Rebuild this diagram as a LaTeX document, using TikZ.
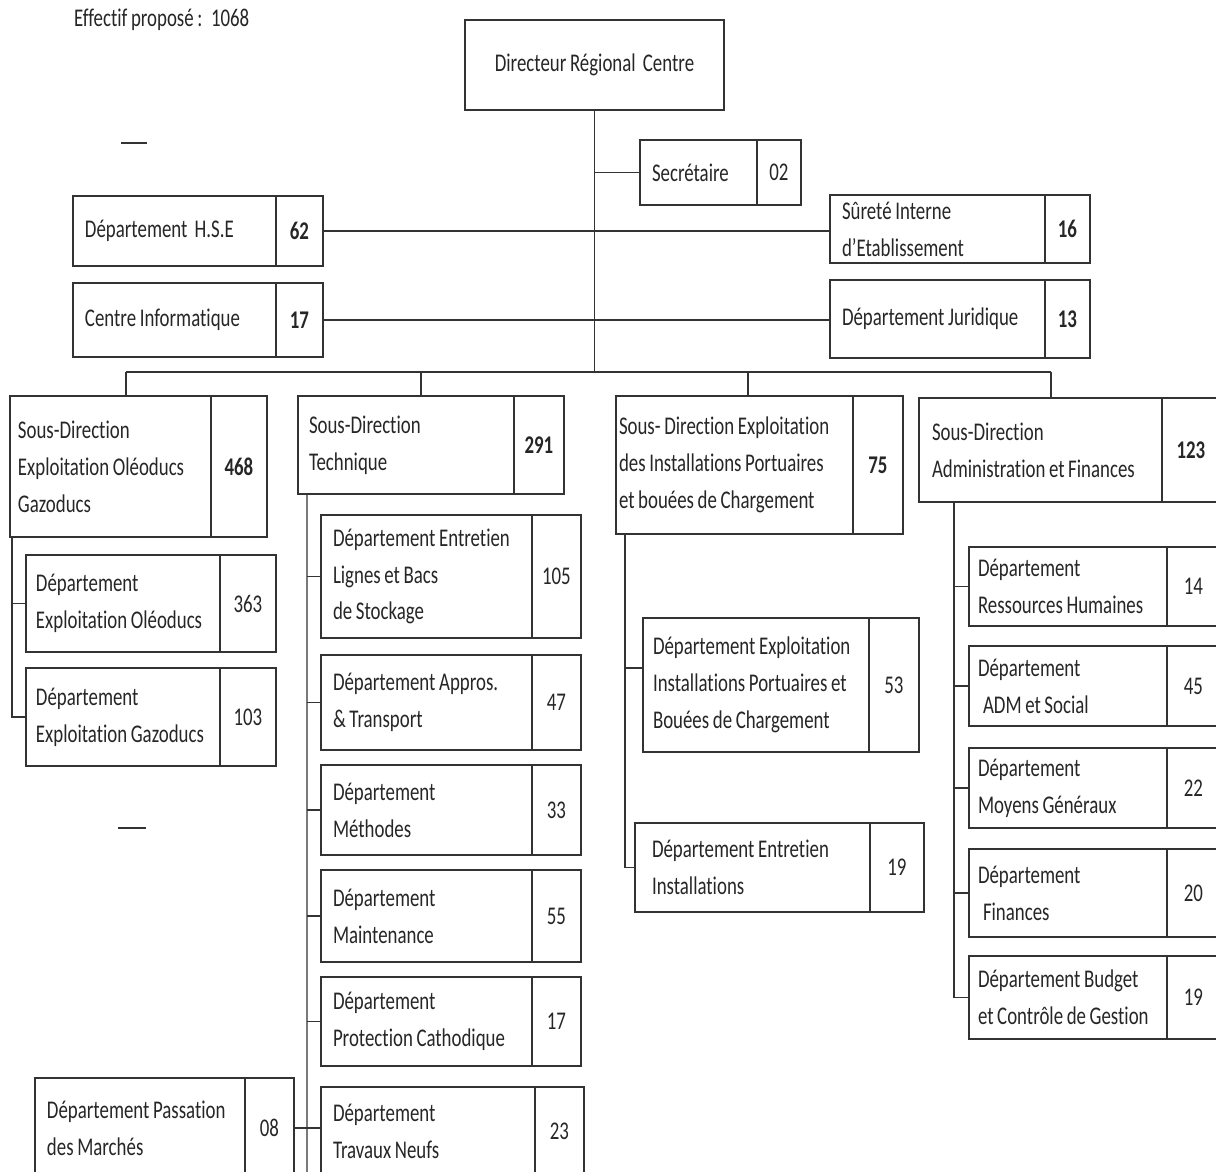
\documentclass[tikz,border=0pt]{standalone}
\usepackage{fontspec}
\setmainfont{Carlito}[FakeStretch=0.74, WordSpace=0.85, Ligatures=NoCommon]
\usepackage{tikz}
\usetikzlibrary{positioning}
\newcommand{\orgfont}{\fontsize{14.5}{21}\selectfont\hyphenpenalty=10000\exhyphenpenalty=10000}
\tikzset{box/.style = {draw = black!80, line width = 0.8pt, outer sep = 0, inner ysep = 0, inner xsep = 0.24cm, align = flush left, anchor = north west, text = black!85}}
\tikzset{num/.style = {draw = black!80, line width = 0.8pt, outer sep = 0, inner sep = 0, text = black!85}}
\tikzset{bnum/.style = {num, font = \orgfont\bfseries}}
\tikzset{link/.style = {black!80, line width = 0.8pt}}

\begin{document}
\begin{tikzpicture}[x = 0.02cm, y = -0.02cm, font = \orgfont]
    \useasboundingbox (0, 0) rectangle (1216, 1172);
    \clip (0, 0) rectangle (1216, 1172);

    \node [anchor = west, text = black!85] (eff) at (68, 20) {Effectif proposé :~ 1068};

    \node [box, align = center, inner xsep = 0, minimum width = 5.18cm, minimum height = 1.8cm] (dir) at (465, 20) {Directeur Régional\ \ Centre};

    \node [box, text width = 1.86cm, minimum height = 1.3cm] (sec) at (640, 140) {Secrétaire};
    \node [num, right = 0pt of sec, minimum width = 0.88cm, minimum height = 1.3cm] (sec-n) {02};

    \node [box, text width = 3.58cm, minimum height = 1.4cm] (hse) at (73, 196) {Département\ \ H.S.E};
    \node [bnum, right = 0pt of hse, minimum width = 0.94cm, minimum height = 1.4cm] (hse-n) {62};
    \node [box, text width = 3.82cm, minimum height = 1.36cm] (surete) at (830, 195) {Sûreté Interne\\d’Etablissement};
    \node [bnum, right = 0pt of surete, minimum width = 0.9cm, minimum height = 1.36cm] (surete-n) {16};
    \node [box, text width = 3.58cm, minimum height = 1.48cm] (info) at (73, 283) {Centre Informatique};
    \node [bnum, right = 0pt of info, minimum width = 0.94cm, minimum height = 1.48cm] (info-n) {17};
    \node [box, text width = 3.82cm, minimum height = 1.56cm] (jur) at (830, 280) {Département Juridique};
    \node [bnum, right = 0pt of jur, minimum width = 0.9cm, minimum height = 1.56cm] (jur-n) {13};

    \node [box, inner xsep = 0.16cm, text width = 3.7cm, minimum height = 2.82cm] (sdo) at (10, 396) {Sous-Direction\\Exploitation Oléoducs\\Gazoducs};
    \node [bnum, right = 0pt of sdo, minimum width = 1.12cm, minimum height = 2.82cm] (sdo-n) {468};
    \node [box, inner xsep = 0.22cm, text width = 3.88cm, minimum height = 1.96cm] (sdt) at (298, 396) {Sous-Direction\\Technique};
    \node [bnum, right = 0pt of sdt, minimum width = 1.0cm, minimum height = 1.96cm] (sdt-n) {291};
    \node [box, inner xsep = 0.06cm, text width = 4.62cm, minimum height = 2.76cm] (sdp) at (616, 396) {Sous- Direction Exploitation\\des Installations Portuaires\\et bouées de Chargement};
    \node [bnum, right = 0pt of sdp, minimum width = 1.0cm, minimum height = 2.76cm] (sdp-n) {75};
    \node [box, inner xsep = 0.26cm, text width = 4.34cm, minimum height = 2.08cm] (sda) at (919, 398) {Sous-Direction\\Administration et Finances};
    \node [bnum, right = 0pt of sda, minimum width = 1.16cm, minimum height = 2.08cm] (sda-n) {123};

    \node [box, inner xsep = 0.2cm, text width = 3.48cm, minimum height = 1.94cm] (deo) at (26, 555) {Département\\Exploitation Oléoducs};
    \node [num, right = 0pt of deo, minimum width = 1.12cm, minimum height = 1.94cm] (deo-n) {363};
    \node [box, inner xsep = 0.2cm, text width = 3.48cm, minimum height = 1.96cm] (deg) at (26, 668) {Département\\Exploitation Gazoducs};
    \node [num, right = 0pt of deg, minimum width = 1.12cm, minimum height = 1.96cm] (deg-n) {103};

    \node [box, text width = 3.74cm, minimum height = 2.46cm] (del) at (321, 515) {Département Entretien\\Lignes et Bacs\\de Stockage};
    \node [num, right = 0pt of del, minimum width = 0.98cm, minimum height = 2.46cm] (del-n) {105};
    \node [box, text width = 3.74cm, minimum height = 1.9cm] (dap) at (321, 655) {Département Appros.\\\& Transport};
    \node [num, right = 0pt of dap, minimum width = 0.98cm, minimum height = 1.9cm] (dap-n) {47};
    \node [box, text width = 3.74cm, minimum height = 1.8cm] (dme) at (321, 765) {Département\\Méthodes};
    \node [num, right = 0pt of dme, minimum width = 0.98cm, minimum height = 1.8cm] (dme-n) {33};
    \node [box, text width = 3.74cm, minimum height = 1.84cm] (dma) at (321, 870) {Département\\Maintenance};
    \node [num, right = 0pt of dma, minimum width = 0.98cm, minimum height = 1.84cm] (dma-n) {55};
    \node [box, text width = 3.74cm, minimum height = 1.78cm] (dpc) at (321, 977) {Département\\Protection Cathodique};
    \node [num, right = 0pt of dpc, minimum width = 0.98cm, minimum height = 1.78cm] (dpc-n) {17};
    \node [box, text width = 3.8cm, minimum height = 1.76cm] (dtn) at (321, 1087) {Département\\Travaux Neufs};
    \node [num, right = 0pt of dtn, minimum width = 0.98cm, minimum height = 1.76cm] (dtn-n) {23};
    \node [box, text width = 3.72cm, minimum height = 2.0cm] (dpm) at (35, 1078) {Département Passation\\des Marchés};
    \node [num, right = 0pt of dpm, minimum width = 0.98cm, minimum height = 2.0cm] (dpm-n) {08};

    \node [box, inner xsep = 0.2cm, text width = 4.12cm, minimum height = 2.68cm] (dei) at (643, 618) {Département Exploitation\\Installations Portuaires et\\Bouées de Chargement};
    \node [num, right = 0pt of dei, minimum width = 1.0cm, minimum height = 2.68cm] (dei-n) {53};
    \node [box, inner xsep = 0.34cm, text width = 4.02cm, minimum height = 1.78cm] (den) at (635, 823) {Département Entretien\\Installations};
    \node [num, right = 0pt of den, minimum width = 1.08cm, minimum height = 1.78cm] (den-n) {19};

    \node [box, inner xsep = 0.18cm, text width = 3.6cm, minimum height = 1.58cm] (drh) at (969, 547) {Département\\Ressources Humaines};
    \node [num, right = 0pt of drh, minimum width = 1.06cm, minimum height = 1.58cm] (drh-n) {14};
    \node [box, inner xsep = 0.18cm, text width = 3.6cm, minimum height = 1.6cm] (dad) at (969, 646) {Département\\\hspace*{0.1cm}ADM et Social};
    \node [num, right = 0pt of dad, minimum width = 1.06cm, minimum height = 1.6cm] (dad-n) {45};
    \node [box, inner xsep = 0.18cm, text width = 3.6cm, minimum height = 1.6cm] (dmg) at (969, 748) {Département\\Moyens Généraux};
    \node [num, right = 0pt of dmg, minimum width = 1.06cm, minimum height = 1.6cm] (dmg-n) {22};
    \node [box, inner xsep = 0.18cm, text width = 3.6cm, minimum height = 1.76cm] (dfi) at (969, 849) {Département\\\hspace*{0.1cm}Finances};
    \node [num, right = 0pt of dfi, minimum width = 1.06cm, minimum height = 1.76cm] (dfi-n) {20};
    \node [box, inner xsep = 0.18cm, text width = 3.6cm, minimum height = 1.66cm] (dbc) at (969, 956) {Département Budget\\et Contrôle de Gestion};
    \node [num, right = 0pt of dbc, minimum width = 1.06cm, minimum height = 1.66cm] (dbc-n) {19};

    \coordinate (bus) at (594, 372);
    \coordinate (b1) at (126, 372);
    \coordinate (b2) at (421, 372);
    \coordinate (b3) at (748, 372);
    \coordinate (b4) at (1051, 372);
    \coordinate (tend) at (307, 1190);

    \draw [link] (dir.south) -- (dir.south |- bus);
    \draw [link] (sec.west) -- (sec.west -| bus);
    \draw [link] (hse-n.east) -- (hse-n.east -| surete.west);
    \draw [link] (info-n.east) -- (info-n.east -| jur.west);
    \draw [link] (b1) -- (b4);
    \draw [link] (b1) -- (b1 |- sdo.north);
    \draw [link] (b2) -- (b2 |- sdt.north);
    \draw [link] (b3) -- (b3 |- sdp.north);
    \draw [link] (b4) -- (b4 |- sda.north);

    \draw [link] ([xshift = 0.04cm]sdo.south west) |- (deg.west);
    \draw [link] (deo.west) -- ++(-14, 0);

    \draw [link] ([xshift = 0.18cm]sdt.south west) -- (tend);
    \draw [link] (del.west) -- ++(-14, 0);
    \draw [link] (dap.west) -- ++(-14, 0);
    \draw [link] (dme.west) -- ++(-14, 0);
    \draw [link] (dma.west) -- ++(-14, 0);
    \draw [link] (dpc.west) -- ++(-14, 0);
    \draw [link] (dpm-n.east) -- (dpm-n.east -| dtn.west);

    \draw [link] ([xshift = 0.18cm]sdp.south west) |- (den.west);
    \draw [link] ([yshift = -1cm]dei.north west) -- ++(-18, 0);

    \draw [link] ([xshift = 0.7cm]sda.south west) |- (dbc.west);
    \draw [link] (drh.west) -- ++(-15, 0);
    \draw [link] (dad.west) -- ++(-15, 0);
    \draw [link] (dmg.west) -- ++(-15, 0);
    \draw [link] (dfi.west) -- ++(-15, 0);

    \draw [black!80, line width = 1.4pt] (121, 143) -- (147, 143);
    \draw [black!80, line width = 1.4pt] (118, 828) -- (146, 828);
\end{tikzpicture}
\end{document}
